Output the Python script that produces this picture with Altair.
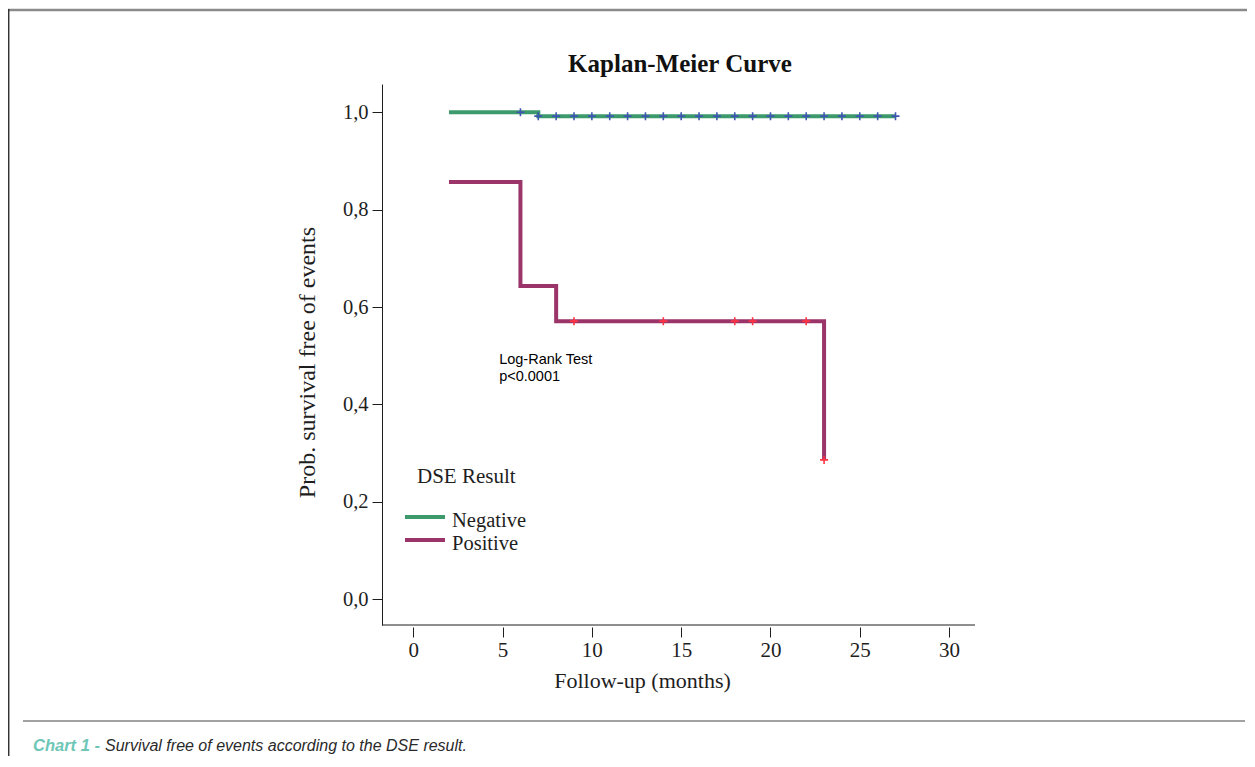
import altair as alt
import pandas as pd

# ---- data ----
groups = ["Negative", "Positive"]
line_colors = ["#3c9a6c", "#9b3468"]
censor_colors = ["#3f55b4", "#ff3344"]

neg_time = [2, 7, 27]
neg_surv = [1.0, 0.992, 0.992]
pos_time = [2, 6, 8, 23]
pos_surv = [0.857, 0.643, 0.571, 0.286]

neg_cens_time = [6, 7, 8, 9, 10, 11, 12, 13, 14, 15, 16, 17, 18, 19, 20, 21, 22, 23, 24, 25, 26, 27]
neg_cens_surv = [1.0, 0.992, 0.992, 0.992, 0.992, 0.992, 0.992, 0.992, 0.992, 0.992, 0.992,
                 0.992, 0.992, 0.992, 0.992, 0.992, 0.992, 0.992, 0.992, 0.992, 0.992, 0.992]
pos_cens_time = [9, 14, 18, 19, 22, 23]
pos_cens_surv = [0.571, 0.571, 0.571, 0.571, 0.571, 0.286]

x_ticks = [0, 5, 10, 15, 20, 25, 30]
y_ticks = [0.0, 0.2, 0.4, 0.6, 0.8, 1.0]

annot_x = [4.81]
annot_y = [0.4825]
annot_text = [["Log-Rank Test", "p<0.0001"]]

title_text = "Kaplan-Meier Curve"
x_title = "Follow-up (months)"
y_title = "Prob. survival free of events"
legend_title = "DSE Result"
caption_lead = "Chart 1 -"
caption_rest = "Survival free of events according to the DSE result."

# ---- tables ----
lines_df = pd.DataFrame({
    "time": neg_time + pos_time,
    "surv": neg_surv + pos_surv,
    "group": [groups[0]] * len(neg_time) + [groups[1]] * len(pos_time),
})
cens_df = pd.DataFrame({
    "time": neg_cens_time + pos_cens_time,
    "surv": neg_cens_surv + pos_cens_surv,
    "col": [censor_colors[0]] * len(neg_cens_time) + [censor_colors[1]] * len(pos_cens_time),
})
annot_df = pd.DataFrame({"x": annot_x, "y": annot_y, "t": annot_text})
legend_df = pd.DataFrame({"group": groups, "col": line_colors, "row": list(range(len(groups)))})

W, H = 593, 541
SERIF = "Liberation Serif"
INK = "#1e1e1e"

xscale = alt.Scale(domain=[-1.75, 31.45], nice=False, zero=False)
yscale = alt.Scale(domain=[-0.053, 1.058], nice=False, zero=False)

x_axis = alt.Axis(values=x_ticks, domain=False, offset=2, tickSize=10, tickColor=INK,
                  labelFont=SERIF, labelFontSize=21, labelColor=INK, labelPadding=2,
                  title=x_title, titleFont=SERIF, titleFontSize=22, titleFontWeight="normal",
                  titleColor=INK, titleX=260, titleY=60, titleAlign="center",
                  titleBaseline="alphabetic", grid=False)
y_axis = alt.Axis(values=y_ticks, domainColor=INK, tickSize=10, tickColor=INK,
                  labelFont=SERIF, labelFontSize=20.5, labelColor=INK, labelPadding=4,
                  labelBaseline="middle",
                  labelExpr="replace(format(datum.value, '.1f'), '.', ',')",
                  title=y_title, titleFont=SERIF, titleFontSize=24, titleFontWeight="normal",
                  titleColor=INK, titleX=-68, titleY=278, titleAngle=270,
                  titleAlign="center", titleBaseline="alphabetic", grid=False)

lines = alt.Chart(lines_df).mark_line(interpolate="step-after", strokeWidth=4).encode(
    x=alt.X("time:Q", scale=xscale, axis=x_axis),
    y=alt.Y("surv:Q", scale=yscale, axis=y_axis),
    color=alt.Color("group:N", scale=alt.Scale(domain=groups, range=line_colors), legend=None),
    detail="group:N",
)

censors = alt.Chart(cens_df).mark_point(
    shape="M-1,0H1M0,-1V1", filled=False, size=64, strokeWidth=1.6, opacity=1
).encode(
    x=alt.X("time:Q", scale=xscale),
    y=alt.Y("surv:Q", scale=yscale),
    stroke=alt.Stroke("col:N", scale=None),
)

annot = alt.Chart(annot_df).mark_text(
    align="left", baseline="alphabetic", font="Liberation Sans", fontSize=14.5,
    lineHeight=16.5, color="#000"
).encode(
    x=alt.X("x:Q", scale=xscale),
    y=alt.Y("y:Q", scale=yscale),
    text="t",
)

dummy = alt.Data(values=[{}])

# legend drawn as marks (DSE Result)
leg_title = alt.Chart(dummy).mark_text(
    text=legend_title, align="left", baseline="alphabetic", font=SERIF, fontSize=21, color=INK
).encode(x=alt.value(35), y=alt.value(399))
leg_base = alt.Chart(legend_df).transform_calculate(
    ypx="433 + 23 * datum.row", ylab="443 + 23 * datum.row")
leg_sym = leg_base.mark_rule(strokeWidth=4).encode(
    x=alt.value(23), x2=alt.value(63),
    y=alt.Y("ypx:Q", scale=None),
    color=alt.Color("col:N", scale=None),
)
leg_lab = leg_base.mark_text(
    align="left", baseline="alphabetic", font=SERIF, fontSize=20.5, color=INK
).encode(
    x=alt.value(70),
    y=alt.Y("ylab:Q", scale=None),
    text="group:N",
)

x_domain_line = alt.Chart(dummy).mark_rule(color=INK, strokeWidth=1).encode(
    x=alt.value(0), x2=alt.value(W), y=alt.value(H))

chart_title = alt.Chart(dummy).mark_text(
    text=title_text, align="center", baseline="alphabetic", font=SERIF, fontSize=25,
    fontWeight="bold", color="#111"
).encode(x=alt.value(298), y=alt.value(-12))

top_border = alt.Chart(dummy).mark_rule(color="#8a8a8a", strokeWidth=2.5).encode(
    x=alt.value(-374), x2=alt.value(873), y=alt.value(-74))
left_border = alt.Chart(dummy).mark_rule(color="#333", strokeWidth=1.5).encode(
    x=alt.value(-373.3), y=alt.value(-75), y2=alt.value(700))
sep_line = alt.Chart(dummy).mark_rule(color="#444", strokeWidth=1).encode(
    x=alt.value(-359), x2=alt.value(863), y=alt.value(637))

cap1 = alt.Chart(dummy).mark_text(
    text=caption_lead, align="left", baseline="alphabetic", font="Liberation Sans",
    fontSize=16.5, fontStyle="italic", fontWeight="bold", color="#6ec6b6"
).encode(x=alt.value(-349), y=alt.value(667))
cap2 = alt.Chart(dummy).mark_text(
    text=caption_rest, align="left", baseline="alphabetic", font="Liberation Sans",
    fontSize=16, fontStyle="italic", color="#2a2a2a"
).encode(x=alt.value(-277), y=alt.value(667))

chart = alt.layer(
    top_border, left_border, sep_line, cap1, cap2, chart_title,
    x_domain_line, lines, censors, annot, leg_title, leg_sym, leg_lab
).properties(
    width=W, height=H,
    autosize=alt.AutoSizeParams(type="none"),
    padding={"left": 374, "top": 76, "right": 272, "bottom": 131},
).configure_view(strokeWidth=0)

chart.save("out.html", embed_options={"renderer": "svg", "actions": False})
